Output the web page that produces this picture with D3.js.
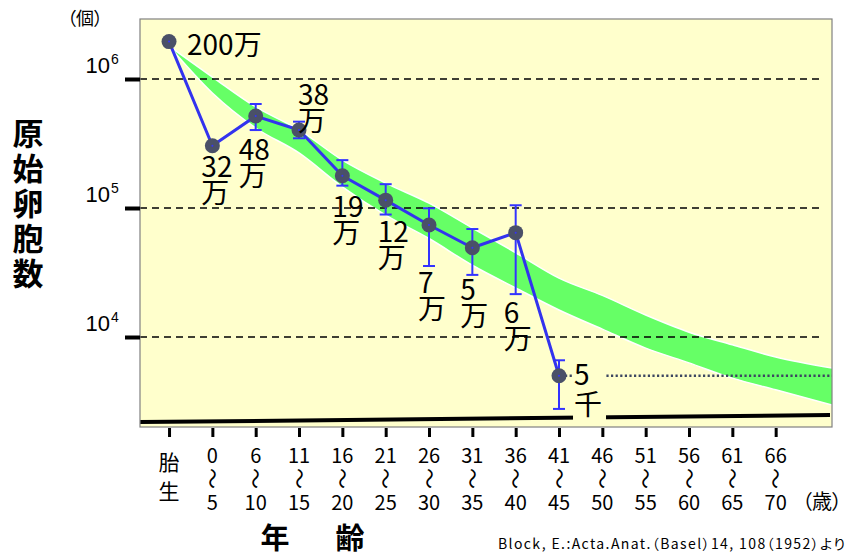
<!DOCTYPE html>
<html lang="ja">
<head>
<meta charset="utf-8">
<script src="https://cdn.jsdelivr.net/npm/d3@7"></script>
<style>
  body { margin: 0; background: #fff; }
  svg { display: block; font-family: 'Noto Sans CJK JP', sans-serif; }
  .palt { font-feature-settings: "palt"; }
</style>
</head>
<body>
<svg id="chart" width="849" height="557"></svg>
<script>
// 年齢区分（上段・下段）
const ageFrom = ['胎', '0', '6', '11', '16', '21', '26', '31', '36', '41', '46', '51', '56', '61', '66'];
const ageTo = ['生', '5', '10', '15', '20', '25', '30', '35', '40', '45', '50', '55', '60', '65', '70'];

// 原始卵胞数（平均）と誤差範囲
const counts = [1950000, 304000, 516000, 402000, 178000, 115000, 73800, 49200, 64400, 5010];
const errLow = [null, null, 402000, 347000, 149000, 89000, 35500, 30300, 21500, 2770];
const errHigh = [null, null, 640000, 467000, 235000, 153000, 99500, 68700, 105000, 6600];
const labelNum = ['200', '32', '48', '38', '19', '12', '7', '5', '6', '5'];
const labelUnit = ['万', '万', '万', '万', '万', '万', '万', '万', '万', '千'];

// 緑の帯（各年齢区分の上端・下端、最後はグラフ右端）
const bandUpper = [1800000, 1036000, 607000, 403000, 235000, 156000, 109000, 70000, 45000, 28600, 21000, 14800, 10900, 8700, 7000, 5750];
const bandLower = [1800000, 778000, 417000, 267000, 146000, 88000, 58000, 36000, 24000, 16200, 11500, 8200, 6300, 4800, 3900, 2970];

// 下端の黒線（左端・右端の値）
const floorLine = [2190, 2480];

const yTicks = [1e4, 1e5, 1e6];

const svg = d3.select('#chart');
const plot = { left: 140, top: 19, right: 832, bottom: 427 };

const x = d3.scaleLinear().domain([-0.67, 15.3]).range([plot.left, plot.right]);
const y = d3.scaleLog().domain([2006, 2.918e6]).range([plot.bottom, plot.top]);

// ラベル配置（点からのずれ）
const labelLayout = [
    { dx: 18, dy: 13, gap: 0 },
    { dx: -11, dy: 31, gap: 26 },
    { dx: -17, dy: 44, gap: 26 },
    { dx: -1, dy: -25, gap: 26 },
    { dx: -10, dy: 41, gap: 26 },
    { dx: -8, dy: 42, gap: 26 },
    { dx: -11, dy: 68, gap: 26 },
    { dx: -12, dy: 52, gap: 26 },
    { dx: -12, dy: 90, gap: 26 },
    { dx: 15, dy: 9, gap: 30 }
];

const bg = '#ffffcc';

svg.append('defs')
    .append('clipPath')
    .attr('id', 'plot-clip')
    .append('rect')
    .attr('x', plot.left)
    .attr('y', plot.top)
    .attr('width', plot.right - plot.left)
    .attr('height', plot.bottom - plot.top);

svg.append('rect')
    .attr('x', plot.left)
    .attr('y', plot.top)
    .attr('width', plot.right - plot.left)
    .attr('height', plot.bottom - plot.top)
    .attr('fill', bg);

const inner = svg.append('g').attr('clip-path', 'url(#plot-clip)');

// 緑の帯
const band = bandUpper.map((hi, i) => ({
    pos: i < 15 ? i : x.domain()[1],
    hi,
    lo: bandLower[i]
}));

inner.append('path')
    .datum(band)
    .attr('fill', '#66ff66')
    .attr('d', d3.area()
        .x(d => x(d.pos))
        .y0(d => y(d.lo))
        .y1(d => y(d.hi))
        .curve(d3.curveMonotoneX));

['hi', 'lo'].forEach(key => {
    inner.append('path')
        .datum(band)
        .attr('fill', 'none')
        .attr('stroke', '#ffffff')
        .attr('stroke-width', 1.5)
        .attr('d', d3.line()
            .x(d => x(d.pos))
            .y(d => y(d[key]))
            .curve(d3.curveMonotoneX));
});

// 破線の目盛線
inner.selectAll('line.grid')
    .data(yTicks)
    .enter()
    .append('line')
    .attr('class', 'grid')
    .attr('x1', plot.left)
    .attr('x2', plot.right - 9)
    .attr('y1', d => y(d))
    .attr('y2', d => y(d))
    .attr('stroke', '#000')
    .attr('stroke-width', 1.6)
    .attr('stroke-dasharray', '7,5');

// 下端の黒線
inner.append('line')
    .attr('x1', x(x.domain()[0]))
    .attr('x2', x(x.domain()[1]) - 2)
    .attr('y1', y(floorLine[0]))
    .attr('y2', y(floorLine[1]))
    .attr('stroke', '#000')
    .attr('stroke-width', 4);

// 5千の点線
const last = counts.length - 1;
inner.append('line')
    .attr('x1', x(last) + 6)
    .attr('x2', plot.right)
    .attr('y1', y(counts[last]))
    .attr('y2', y(counts[last]))
    .attr('stroke', '#3c4660')
    .attr('stroke-width', 2.6)
    .attr('stroke-dasharray', '2.2,2.4');

// 5千ラベルの下地
inner.append('rect')
    .attr('x', x(last) + 14)
    .attr('y', y(counts[last]) - 18)
    .attr('width', 33)
    .attr('height', 70)
    .attr('fill', bg);

// 誤差棒
const bars = counts.map((v, i) => ({ i, lo: errLow[i], hi: errHigh[i] })).filter(d => d.lo != null);
const errG = inner.append('g')
    .attr('stroke', '#3333ff')
    .attr('stroke-width', 2);

errG.selectAll('line.stem')
    .data(bars)
    .enter()
    .append('line')
    .attr('x1', d => x(d.i))
    .attr('x2', d => x(d.i))
    .attr('y1', d => y(d.lo))
    .attr('y2', d => y(d.hi));

['lo', 'hi'].forEach(key => {
    errG.selectAll(`line.cap-${key}`)
        .data(bars)
        .enter()
        .append('line')
        .attr('x1', d => x(d.i) - 6)
        .attr('x2', d => x(d.i) + 6)
        .attr('y1', d => y(d[key]))
        .attr('y2', d => y(d[key]));
});

// 折れ線
inner.append('path')
    .datum(counts)
    .attr('fill', 'none')
    .attr('stroke', '#3333ee')
    .attr('stroke-width', 3)
    .attr('stroke-linejoin', 'round')
    .attr('d', d3.line()
        .x((d, i) => x(i))
        .y(d => y(d)));

inner.selectAll('circle.dot')
    .data(counts)
    .enter()
    .append('circle')
    .attr('class', 'dot')
    .attr('cx', (d, i) => x(i))
    .attr('cy', d => y(d))
    .attr('r', 7.5)
    .attr('fill', '#4a5068');

inner.selectAll('circle.center')
    .data(counts)
    .enter()
    .append('circle')
    .attr('cx', (d, i) => x(i))
    .attr('cy', d => y(d))
    .attr('r', 1)
    .attr('fill', '#3333ff');

// 値ラベル
const labels = svg.append('g')
    .attr('font-size', 28)
    .attr('fill', '#000');

counts.forEach((v, i) => {
    const lay = labelLayout[i];
    const t = labels.append('text')
        .attr('x', x(i) + lay.dx)
        .attr('y', y(v) + lay.dy);

    if (lay.gap === 0) {
        t.text(labelNum[i] + labelUnit[i]);
    } else {
        t.append('tspan').text(labelNum[i]);
        t.append('tspan')
            .attr('x', x(i) + lay.dx)
            .attr('dy', lay.gap)
            .text(labelUnit[i]);
    }
});

// 枠線
svg.append('rect')
    .attr('x', plot.left)
    .attr('y', plot.top)
    .attr('width', plot.right - plot.left)
    .attr('height', plot.bottom - plot.top)
    .attr('fill', 'none')
    .attr('stroke', '#808080')
    .attr('stroke-width', 1.2);

// Y軸目盛
const yAxis = svg.append('g')
    .attr('transform', `translate(${plot.left},0)`)
    .call(d3.axisLeft(y).tickValues(yTicks).tickSize(15).tickFormat(''));
yAxis.select('.domain').remove();
yAxis.selectAll('.tick line')
    .attr('stroke', '#000')
    .attr('stroke-width', 4);

const yLab = svg.append('g')
    .attr('font-family', "'Liberation Sans', Arial, sans-serif")
    .attr('fill', '#000');

yTicks.forEach(t => {
    const ty = y(t);
    yLab.append('text')
        .attr('x', 110)
        .attr('y', ty - 6)
        .attr('text-anchor', 'end')
        .attr('font-size', 22)
        .text('10');
    yLab.append('text')
        .attr('x', 111)
        .attr('y', ty - 15)
        .attr('font-size', 14)
        .text(Math.round(Math.log10(t)));
});

// X軸目盛
const xAxis = svg.append('g')
    .attr('transform', `translate(0,${plot.bottom + 1})`)
    .call(d3.axisBottom(x).tickValues(d3.range(ageFrom.length)).tickSize(9).tickFormat(''));
xAxis.select('.domain').remove();
xAxis.selectAll('.tick line')
    .attr('stroke', '#000')
    .attr('stroke-width', 3);

const xLab = svg.append('g')
    .attr('text-anchor', 'middle')
    .attr('fill', '#000');

ageFrom.forEach((a, i) => {
    const cx = x(i);
    if (i === 0) {
        xLab.append('text').attr('x', cx).attr('y', 470).attr('font-size', 21).text(a);
        xLab.append('text').attr('x', cx).attr('y', 499).attr('font-size', 21).text(ageTo[i]);
        return;
    }
    xLab.append('text').attr('x', cx).attr('y', 463).attr('font-size', 20).text(a);
    xLab.append('text')
        .attr('font-size', 21)
        .attr('transform', `translate(${cx},478.5) rotate(90)`)
        .attr('dy', '0.35em')
        .text('〜');
    xLab.append('text').attr('x', cx).attr('y', 510).attr('font-size', 20).text(ageTo[i]);
});

svg.append('text')
    .attr('class', 'palt')
    .attr('x', 802)
    .attr('y', 509)
    .attr('font-size', 20)
    .text('（歳）');

// 軸タイトル
svg.append('text')
    .attr('x', 275)
    .attr('y', 549)
    .attr('text-anchor', 'middle')
    .attr('font-size', 29)
    .attr('font-weight', 'bold')
    .text('年');

svg.append('text')
    .attr('x', 350)
    .attr('y', 549)
    .attr('text-anchor', 'middle')
    .attr('font-size', 29)
    .attr('font-weight', 'bold')
    .text('齢');

svg.append('g')
    .selectAll('text')
    .data('原始卵胞数'.split(''))
    .enter()
    .append('text')
    .attr('x', 28)
    .attr('y', (d, i) => 145 + i * 35)
    .attr('text-anchor', 'middle')
    .attr('font-size', 31)
    .attr('font-weight', 'bold')
    .text(d => d);

svg.append('text')
    .attr('class', 'palt')
    .attr('x', 67)
    .attr('y', 25)
    .attr('font-size', 18)
    .text('（個）');

svg.append('text')
    .attr('class', 'palt')
    .attr('x', 498)
    .attr('y', 549)
    .attr('font-size', 14)
    .attr('textLength', 347)
    .attr('lengthAdjust', 'spacing')
    .text('Block, E.:Acta.Anat.（Basel）14, 108（1952）より');
</script>
</body>
</html>
